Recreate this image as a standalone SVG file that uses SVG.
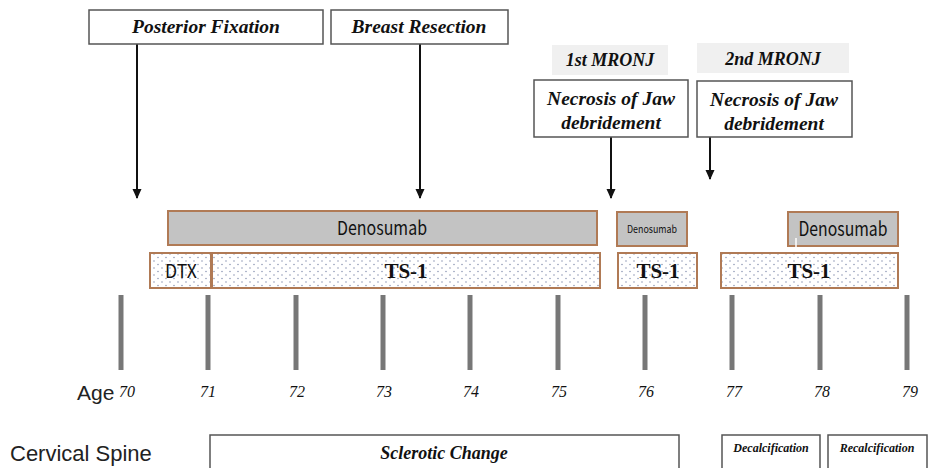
<svg xmlns="http://www.w3.org/2000/svg" width="932" height="468" viewBox="0 0 932 468">
<style>
.box{fill:#fff;stroke:#555;stroke-width:1.5}
.lbl{fill:#f0f0f0;stroke:none}
.ev{font-family:"Liberation Serif",serif;font-weight:bold;font-style:italic;font-size:19.5px;fill:#111;text-anchor:middle}
.mr{font-family:"Liberation Serif",serif;font-weight:bold;font-style:italic;font-size:18px;fill:#111;text-anchor:middle}
.nec{font-family:"Liberation Serif",serif;font-weight:bold;font-style:italic;font-size:19.5px;fill:#111;text-anchor:middle}
.den{fill:#c3c3c3;stroke:#b07a55;stroke-width:2}
.ts{fill:url(#dots);stroke:#b07a55;stroke-width:2}
.gt{font-family:"Noto Sans CJK JP","DejaVu Sans",sans-serif;font-size:19px;fill:#111;text-anchor:middle}
.tst{font-family:"Liberation Serif",serif;font-weight:bold;font-size:21px;fill:#111;text-anchor:middle}
.tick{stroke:#777;stroke-width:5}
.age{font-family:"Liberation Serif",serif;font-style:italic;font-size:16px;fill:#111;text-anchor:middle}
.side{font-family:"Liberation Sans",sans-serif;font-size:22px;fill:#222}
.arr{stroke:#111;stroke-width:2;fill:none;marker-end:url(#ah)}
</style>
<defs>
<pattern id="dots" width="8" height="7" patternUnits="userSpaceOnUse">
<rect width="8" height="7" fill="#fff"/>
<circle cx="2" cy="2" r="0.7" fill="#7a86a8"/>
<circle cx="6" cy="5.5" r="0.7" fill="#7a86a8"/>
</pattern>
<marker id="ah" markerWidth="10" markerHeight="10" refX="9" refY="5" orient="auto" markerUnits="userSpaceOnUse">
<path d="M0,0.5 L10,5 L0,9.5 Z" fill="#111"/>
</marker>
</defs>

<g id="connectors">
<line class="arr" x1="137" y1="44" x2="137" y2="198"/>
<line class="arr" x1="420" y1="44" x2="420" y2="198"/>
<line class="arr" x1="611" y1="137" x2="611" y2="198"/>
<line class="arr" x1="710" y1="137" x2="710" y2="179"/>
</g>

<g id="posterior-fixation">
<rect class="box" x="89" y="10" width="234" height="34"/>
<text class="ev" x="206" y="33">Posterior Fixation</text>
</g>
<g id="breast-resection">
<rect class="box" x="331" y="10" width="177" height="34"/>
<text class="ev" x="419" y="33">Breast Resection</text>
</g>

<g id="mronj1-label">
<rect class="lbl" x="552" y="45" width="116" height="30"/>
<text class="mr" x="610" y="66">1st MRONJ</text>
</g>
<g id="mronj2-label">
<rect class="lbl" x="697" y="43" width="152" height="30"/>
<text class="mr" x="773" y="65">2nd MRONJ</text>
</g>
<g id="necrosis1">
<rect class="box" x="534" y="80" width="154" height="57"/>
<text class="nec" x="611" y="105">Necrosis of Jaw</text>
<text class="nec" x="611" y="129">debridement</text>
</g>
<g id="necrosis2">
<rect class="box" x="697" y="81" width="155" height="56"/>
<text class="nec" x="774" y="106">Necrosis of Jaw</text>
<text class="nec" x="774" y="130">debridement</text>
</g>

<g id="denosumab1">
<rect class="den" x="168" y="211" width="429" height="34"/>
<text class="gt" x="382" y="235" textLength="90" lengthAdjust="spacingAndGlyphs">Denosumab</text>
</g>
<g id="denosumab2">
<rect class="den" x="617" y="212" width="70" height="34"/>
<text class="gt" x="652" y="233" style="font-size:11px" textLength="50" lengthAdjust="spacingAndGlyphs">Denosumab</text>
</g>
<g id="denosumab3">
<rect class="den" x="788" y="212" width="110" height="34"/>
<text class="gt" x="843" y="236" style="font-size:20px" textLength="89" lengthAdjust="spacingAndGlyphs">Denosumab</text>
<line x1="796" y1="238" x2="796" y2="247" stroke="#fff" stroke-width="1.5"/>
</g>

<g id="dtx">
<rect class="ts" x="150" y="253" width="61" height="35"/>
<text class="gt" x="181" y="278" textLength="32" lengthAdjust="spacingAndGlyphs">DTX</text>
</g>
<g id="ts1-a">
<rect class="ts" x="212" y="253" width="388" height="35"/>
<text class="tst" x="406" y="278">TS-1</text>
</g>
<g id="ts1-b">
<rect class="ts" x="618" y="253" width="79" height="35"/>
<text class="tst" x="658" y="278">TS-1</text>
</g>
<g id="ts1-c">
<rect class="ts" x="721" y="253" width="177" height="35"/>
<text class="tst" x="809" y="278">TS-1</text>
</g>

<g id="axis">
<line class="tick" x1="121" y1="295" x2="121" y2="370"/>
<line class="tick" x1="208" y1="295" x2="208" y2="370"/>
<line class="tick" x1="296" y1="295" x2="296" y2="370"/>
<line class="tick" x1="383" y1="295" x2="383" y2="370"/>
<line class="tick" x1="470" y1="295" x2="470" y2="370"/>
<line class="tick" x1="558" y1="295" x2="558" y2="370"/>
<line class="tick" x1="645" y1="295" x2="645" y2="370"/>
<line class="tick" x1="732" y1="295" x2="732" y2="370"/>
<line class="tick" x1="820" y1="295" x2="820" y2="370"/>
<line class="tick" x1="907" y1="295" x2="907" y2="370"/>
<text class="side" x="77" y="400" style="font-size:21px">Age</text>
<text class="age" x="127" y="397">70</text>
<text class="age" x="208" y="397">71</text>
<text class="age" x="297" y="397">72</text>
<text class="age" x="384" y="397">73</text>
<text class="age" x="471" y="397">74</text>
<text class="age" x="559" y="397">75</text>
<text class="age" x="646" y="397">76</text>
<text class="age" x="734" y="397">77</text>
<text class="age" x="822" y="397">78</text>
<text class="age" x="910" y="397">79</text>
</g>

<g id="cervical-spine">
<text class="side" x="10" y="461">Cervical Spine</text>
</g>
<g id="sclerotic">
<rect class="box" x="210" y="435" width="469" height="40"/>
<text class="mr" x="444" y="459">Sclerotic Change</text>
</g>
<g id="decalcification">
<rect class="box" x="722" y="435" width="98" height="40"/>
<text class="mr" x="771" y="452" style="font-size:12px">Decalcification</text>
</g>
<g id="recalcification">
<rect class="box" x="828" y="435" width="99" height="40"/>
<text class="mr" x="877" y="452" style="font-size:12px">Recalcification</text>
</g>
</svg>
